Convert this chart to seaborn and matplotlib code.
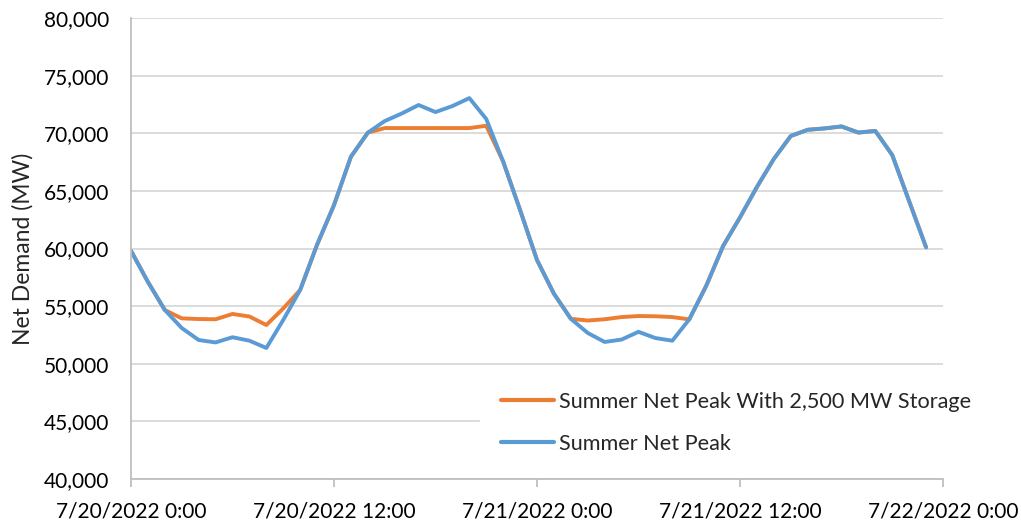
import pandas as pd
import numpy as np
import matplotlib.pyplot as plt
import seaborn as sns

# hourly net demand, 7/20/2022 0:00 .. 7/21/2022 23:00
net_peak = [59800, 57100, 54660, 53100, 52060, 51850, 52300, 52000, 51370, 53800,
            56400, 60330, 63770, 67960, 70050, 71060, 71710, 72450, 71840, 72360,
            73050, 71240, 67540, 63340, 59000, 56080, 53900, 52670, 51890, 52100,
            52770, 52230, 52000, 53850, 56750, 60210, 62700, 65340, 67770, 69760,
            70300, 70420, 70590, 70060, 70200, 68110, 64100, 60100]

with_storage = [59800, 57100, 54660, 53940, 53880, 53860, 54320, 54100, 53360, 54800,
                56400, 60330, 63770, 67960, 70050, 70450, 70450, 70450, 70450, 70450,
                70450, 70650, 67540, 63340, 59000, 56080, 53900, 53750, 53860, 54050,
                54140, 54120, 54050, 53850, 56750, 60210, 62700, 65340, 67770, 69760,
                70300, 70420, 70590, 70060, 70200, 68110, 64100, 60100]

series_names = ["Summer Net Peak With 2,500 MW Storage", "Summer Net Peak"]
series_colors = ["#ED7D31", "#5B9BD5"]

tick_times = ["2022-07-20 00:00", "2022-07-20 12:00", "2022-07-21 00:00",
              "2022-07-21 12:00", "2022-07-22 00:00"]
tick_labels = ["7/20/2022 0:00", "7/20/2022 12:00", "7/21/2022 0:00",
               "7/21/2022 12:00", "7/22/2022 0:00"]

times = pd.date_range("2022-07-20 00:00", periods=len(net_peak), freq="h")
df = pd.concat([
    pd.DataFrame({"time": times, "demand": with_storage, "series": series_names[0]}),
    pd.DataFrame({"time": times, "demand": net_peak, "series": series_names[1]}),
])

sns.set_theme(style="white")
plt.rcParams['font.family'] = ['Lato', 'DejaVu Sans']

fig = plt.figure(figsize=(10.21, 5.25), dpi=100)
ax = fig.add_axes([131 / 1021, 1 - 479 / 525, 812 / 1021, 461 / 525])

sns.lineplot(data=df, x="time", y="demand", hue="series", hue_order=series_names,
             palette=series_colors, linewidth=2.8, ax=ax)

ax.set_ylim(40000, 80000)
ax.set_yticks(np.arange(40000, 80001, 5000))
ax.yaxis.set_major_formatter(plt.FuncFormatter(lambda v, p: f"{int(v):,}"))
ax.set_xlim(pd.Timestamp(tick_times[0]), pd.Timestamp(tick_times[-1]))
ax.set_xticks(pd.to_datetime(tick_times))
ax.set_xticklabels(tick_labels)

ax.grid(axis="y", color="#D9D9D9", linewidth=1.3)
ax.set_axisbelow(True)
for side in ["top", "right"]:
    ax.spines[side].set_visible(False)
for side in ["left", "bottom"]:
    ax.spines[side].set_color("#BFBFBF")
    ax.spines[side].set_linewidth(1.3)

ax.tick_params(axis="y", length=0, pad=16, labelsize=15, labelcolor="black")
ax.tick_params(axis="x", length=6, width=1.3, color="#BFBFBF", direction="out",
               pad=10, labelsize=15, labelcolor="black", bottom=True)
ax.set_xlabel("")
ax.set_ylabel("Net Demand (MW)", fontsize=16.5, labelpad=7)

handles, labels = ax.get_legend_handles_labels()
leg = ax.legend(handles, labels, loc="upper left", bbox_to_anchor=(0.430, 0.2335),
                borderaxespad=0, borderpad=0.95, frameon=True, fancybox=False,
                facecolor="white", edgecolor="white", framealpha=1,
                fontsize=15.6, handlelength=2.45, handletextpad=0.25, labelspacing=1.0)
for line in leg.get_lines():
    line.set_linewidth(3)

fig.savefig("out.png", dpi=100)
plt.close(fig)
